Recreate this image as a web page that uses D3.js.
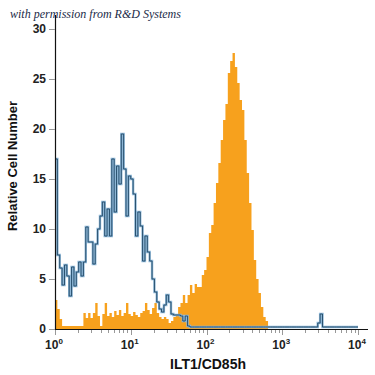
<!DOCTYPE html>
<html>
<head>
<meta charset="utf-8">
<script src="https://cdn.jsdelivr.net/npm/d3@7"></script>
<style>
  body { margin: 0; background: #fff; }
  svg { display: block; }
</style>
</head>
<body>
<div id="chart"></div>
<script>
// histogram channels: 128 bins spread evenly over 10^0 .. 10^4
var nBins = 128;
var decades = [0, 1, 2, 3, 4];
var yTicks = [0, 5, 10, 15, 20, 25, 30];

// isotype control (blue outline)
var controlCounts = [
  17, 7.4, 6.1, 4.4, 6.4, 5.3, 3.3, 6.2, 4.3, 5.7,
  6.7, 5.3, 6.7, 10.2, 8.7, 8.7, 6.5, 8.5, 10, 11.3,
  12.7, 9.3, 12, 9.3, 17, 11.7, 16.3, 14.5, 19.5, 16,
  11.3, 15.3, 15, 13.5, 9.3, 11.7, 10.3, 6.8, 9.3, 7.7,
  6.8, 5, 3.7, 2.7, 2, 1.7, 2.4, 3.4, 2.7, 1.5,
  1.4, 1.4, 1.4, 1.3, 0.8, 1.3, 0.3, 0.2, 0.2, 0.2,
  0.2, 0.2, 0.2, 0.2, 0.2, 0.2, 0.2, 0.2, 0.2, 0.2,
  0.2, 0.2, 0.2, 0.2, 0.2, 0.2, 0.2, 0.2, 0.2, 0.2,
  0.2, 0.2, 0.2, 0.2, 0.2, 0.2, 0.2, 0.2, 0.2, 0.2,
  0.2, 0.2, 0.2, 0.2, 0.2, 0.2, 0.2, 0.2, 0.2, 0.2,
  0.2, 0.2, 0.2, 0.2, 0.2, 0.2, 0.2, 0.2, 0.2, 0.2,
  0.2, 0.6, 1.5, 0.2, 0.2, 0.2, 0.2, 0.2, 0.2, 0.2,
  0.2, 0.2, 0.2, 0.2, 0.2, 0.2, 0.2, 0.2
];

// ILT1/CD85h stained (orange filled)
var stainedCounts = [
  2.9, 2, 1, 0.3, 0.3, 0.3, 0.3, 0.3, 0.3, 0.3,
  0.3, 0.3, 1.6, 1.1, 1.6, 1.1, 1.6, 2.6, 1.3, 0.3,
  1.5, 2.6, 1.3, 1.6, 1.2, 1.8, 1.4, 1.9, 1.3, 1.6,
  2.6, 1.5, 1.3, 1.7, 1.4, 1.2, 1.6, 1.8, 2.6, 1.9,
  1.5, 2.1, 2.6, 1.6, 1.2, 1, 1.2, 1, 0.6, 0.8,
  1.2, 1.5, 2.2, 2.6, 3.4, 2.6, 3.4, 4.4, 3.6, 4.5,
  4.2, 4.2, 5.4, 5.9, 7.2, 9.6, 10.4, 12.6, 14.6, 16.6,
  18.9, 20.9, 22.5, 25.6, 26.8, 27.6, 26.2, 24.6, 22.9, 21.9,
  18.9, 15.6, 12.6, 9.9, 6.9, 5, 3.6, 2.2, 1.2, 0.8,
  0, 0, 0, 0, 0, 0, 0, 0, 0, 0,
  0, 0, 0, 0, 0, 0, 0, 0, 0, 0,
  0, 0, 0, 0, 0, 0, 0, 0, 0, 0,
  0, 0, 0, 0, 0, 0, 0, 0
];

var W = 375, H = 375;
var svg = d3.select('#chart').append('svg')
  .attr('width', W)
  .attr('height', H);

var x = d3.scaleLog().domain([1, 1e4]).range([55, 358]);
var y = d3.scaleLinear().domain([0, 30]).range([329, 29]);

function binEdge(i) { return Math.pow(10, i * 4 / nBins); }
function toSteps(counts) {
  var pts = counts.map(function(c, i) { return [binEdge(i), c]; });
  pts.push([binEdge(counts.length), counts[counts.length - 1]]);
  return pts;
}

// orange filled histogram
var area = d3.area()
  .curve(d3.curveStepAfter)
  .x(function(d) { return x(d[0]); })
  .y0(y(0))
  .y1(function(d) { return y(d[1]); });
svg.append('path')
  .datum(toSteps(stainedCounts))
  .attr('d', area)
  .attr('fill', '#f7a11d');

// blue outline histogram
var line = d3.line()
  .curve(d3.curveStepAfter)
  .x(function(d) { return x(d[0]); })
  .y(function(d) { return y(d[1]); });
var ctrl = toSteps(controlCounts);
svg.append('path')
  .datum(ctrl)
  .attr('d', line)
  .attr('fill', 'none')
  .attr('stroke', '#8db6d6')
  .attr('stroke-width', 2.4);
svg.append('path')
  .datum(ctrl)
  .attr('d', line)
  .attr('fill', 'none')
  .attr('stroke', '#28506e')
  .attr('stroke-width', 1);

var font = "'Liberation Sans Narrow', 'Arial Narrow', 'Liberation Sans', sans-serif";

// y axis
svg.append('line')
  .attr('x1', 55.5).attr('x2', 55.5)
  .attr('y1', 15).attr('y2', 330)
  .attr('stroke', '#111').attr('stroke-width', 1.2);
svg.selectAll('.ytick')
  .data(yTicks)
  .enter().append('line')
  .attr('x1', 49).attr('x2', 55)
  .attr('y1', function(d) { return y(d) + 0.5; })
  .attr('y2', function(d) { return y(d) + 0.5; })
  .attr('stroke', '#999');
svg.selectAll('.ylab')
  .data(yTicks)
  .enter().append('text')
  .attr('x', 46)
  .attr('y', function(d) { return y(d) + 4; })
  .attr('text-anchor', 'end')
  .attr('font-family', font)
  .attr('font-weight', 'bold')
  .attr('font-size', 12)
  .attr('fill', '#222')
  .text(function(d) { return d; });

// x axis
svg.append('line')
  .attr('x1', 55).attr('x2', 368)
  .attr('y1', 329.5).attr('y2', 329.5)
  .attr('stroke', '#111').attr('stroke-width', 1.2);
var minor = [];
decades.slice(0, 4).forEach(function(p) {
  for (var m = 2; m <= 9; m++) minor.push(m * Math.pow(10, p));
});
svg.selectAll('.xminor')
  .data(minor)
  .enter().append('line')
  .attr('x1', function(d) { return Math.round(x(d)) + 0.5; })
  .attr('x2', function(d) { return Math.round(x(d)) + 0.5; })
  .attr('y1', 330).attr('y2', 333)
  .attr('stroke', '#999');
svg.selectAll('.xmajor')
  .data(decades)
  .enter().append('line')
  .attr('x1', function(d) { return Math.round(x(Math.pow(10, d))) + 0.5; })
  .attr('x2', function(d) { return Math.round(x(Math.pow(10, d))) + 0.5; })
  .attr('y1', 330).attr('y2', 335)
  .attr('stroke', '#999');
var xl = svg.selectAll('.xlab')
  .data(decades)
  .enter().append('text')
  .attr('x', function(d) { return x(Math.pow(10, d)) - 1; })
  .attr('y', 349)
  .attr('text-anchor', 'middle')
  .attr('font-family', font)
  .attr('font-weight', 'bold')
  .attr('font-size', 12)
  .attr('fill', '#222');
xl.append('tspan').text('10');
xl.append('tspan')
  .attr('dy', -5)
  .attr('font-size', 8)
  .text(function(d) { return d; });

// axis titles
svg.append('text')
  .attr('x', 208).attr('y', 369)
  .attr('text-anchor', 'middle')
  .attr('font-family', font)
  .attr('font-weight', 'bold')
  .attr('font-size', 14)
  .attr('fill', '#111')
  .text('ILT1/CD85h');
svg.append('text')
  .attr('transform', 'translate(17,166) rotate(-90)')
  .attr('text-anchor', 'middle')
  .attr('font-family', font)
  .attr('font-weight', 'bold')
  .attr('font-size', 13)
  .attr('fill', '#111')
  .text('Relative Cell Number');

// credit line
svg.append('text')
  .attr('x', 10).attr('y', 18)
  .attr('font-family', "'Liberation Serif', 'DejaVu Serif', serif")
  .attr('font-style', 'italic')
  .attr('font-size', 12)
  .attr('fill', '#1b2a48')
  .text('with permission from R&D Systems');
</script>
</body>
</html>
